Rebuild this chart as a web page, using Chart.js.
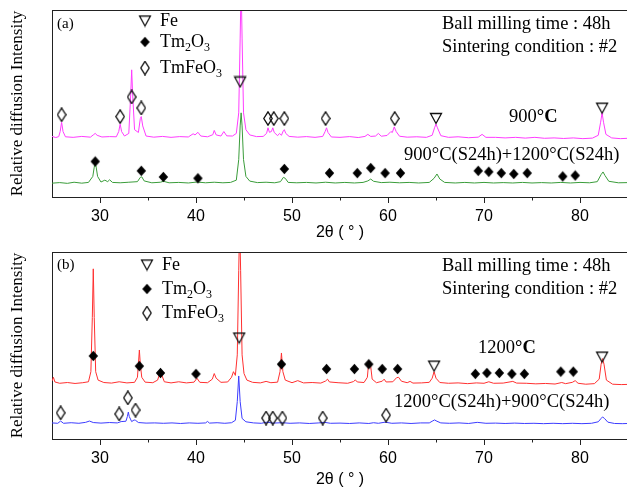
<!DOCTYPE html>
<html>
<head>
<meta charset="utf-8">
<script src="https://cdn.jsdelivr.net/npm/chart.js@4.4.1/dist/chart.umd.min.js"></script>
<style>
  html, body { margin: 0; padding: 0; background: #fff; }
  #wrap { position: relative; width: 627px; height: 488px; overflow: hidden; background: #fff; }
  canvas { position: absolute; left: 0; }
  #chartA { top: 0; }
  #chartB { top: 244px; }
</style>
</head>
<body>
<div id="wrap">
  <canvas id="chartA" width="640" height="244"></canvas>
  <canvas id="chartB" width="640" height="244"></canvas>
</div>
<script>
// x axis (2-theta) range and labelled ticks
const thetaMin = 25;
const thetaMax = 85;
const majorTicks = [30, 40, 50, 60, 70, 80];
const minorTicks = [35, 45, 55, 65, 75];

// panel (a) – 900°C pattern, [2θ, intensity]
const trace900 = [
  [25.0, 32.4], [25.4, 31.8], [25.7, 32.3], [25.85, 35], [26.0, 40], [26.15, 35], [26.4, 32.2],
  [27.2, 31.9], [28.1, 32.4], [29.0, 32.0], [29.3, 33.2], [29.5, 34], [29.7, 33], [30.2, 32.1],
  [31.0, 32.3], [31.7, 32.2], [31.95, 35], [32.1, 39], [32.25, 35], [32.55, 32.6], [33.0, 34],
  [33.2, 55], [33.3, 68], [33.4, 55], [33.6, 36], [34.0, 34.5], [34.2, 42], [34.3, 43],
  [34.45, 38], [34.8, 32.6], [35.6, 32.0], [36.5, 32.4], [37.4, 31.9], [38.3, 32.3], [39.2, 32.1],
  [39.7, 33.8], [39.9, 33.2], [40.2, 34.6], [40.5, 32.6], [41.2, 32.2], [41.75, 33.3], [41.9, 35.6],
  [42.1, 33.2], [42.6, 32.6], [42.9, 35], [43.2, 32.7], [43.8, 32.6], [44.2, 34], [44.45, 45],
  [44.6, 85], [44.7, 115], [44.8, 85], [44.95, 45], [45.2, 36], [45.6, 33.2], [46.3, 32.3],
  [47.0, 32.4], [47.35, 34], [47.5, 37], [47.65, 34.6], [47.85, 35], [48.0, 37], [48.15, 34.5],
  [48.5, 32.8], [48.7, 34], [48.9, 33], [49.1, 35.5], [49.2, 36], [49.35, 34], [49.7, 32.4],
  [50.6, 32.0], [51.5, 32.3], [52.4, 31.9], [53.2, 32.4], [53.45, 35], [53.6, 37], [53.75, 34.5],
  [54.1, 32.1], [55.0, 31.9], [56.0, 32.3], [56.9, 31.8], [57.6, 32.4], [57.9, 33.5], [58.2, 32.4],
  [58.7, 32.6], [59.0, 34], [59.3, 32.5], [59.9, 32.9], [60.3, 35], [60.45, 34.5], [60.65, 37.5],
  [60.85, 35], [61.2, 32.5], [62.0, 32.0], [63.0, 32.2], [64.0, 31.9], [64.6, 33], [64.85, 37],
  [65.0, 39], [65.15, 37], [65.5, 32.8], [66.3, 31.9], [67.3, 32.2], [68.4, 31.7], [69.4, 32.0],
  [69.8, 33.5], [70.2, 31.9], [71.2, 31.9], [72.2, 31.6], [73.3, 31.9], [74.3, 31.5], [75.3, 31.9],
  [76.3, 31.4], [77.3, 31.6], [78.3, 31.3], [79.3, 31.6], [80.3, 31.2], [81.3, 31.5], [81.9, 33],
  [82.15, 40], [82.3, 45], [82.45, 40], [82.7, 33.5], [83.3, 31.6], [84.2, 31.2], [85.0, 31.4]
];

// panel (a) – 900°C(S24h)+1200°C(S24h)
const trace900to1200 = [
  [25.0, 7.4], [25.8, 7.7], [26.6, 7.3], [27.3, 7.9], [28.1, 7.4], [28.8, 7.8], [29.25, 11],
  [29.4, 16], [29.5, 18], [29.6, 16], [29.75, 11], [30.1, 8], [30.5, 9], [30.8, 8.2], [31.0, 9.2],
  [31.3, 7.8], [32.1, 7.6], [33.0, 7.9], [33.9, 8.2], [34.2, 10.5], [34.35, 10.8], [34.6, 8.6],
  [35.4, 7.6], [36.3, 7.9], [36.6, 8.4], [37.2, 7.6], [38.2, 7.8], [39.2, 7.5], [40.1, 8],
  [41.0, 7.6], [41.9, 7.9], [42.8, 7.6], [43.6, 7.8], [44.2, 9], [44.45, 20], [44.6, 38],
  [44.7, 45], [44.8, 38], [44.95, 20], [45.2, 11], [45.6, 8.5], [46.4, 7.7], [47.3, 7.9],
  [48.2, 7.6], [48.8, 8.2], [49.1, 10.5], [49.3, 10], [49.6, 7.8], [50.5, 7.6], [51.5, 7.8],
  [52.5, 7.5], [53.5, 7.9], [54.5, 7.5], [55.5, 7.8], [56.5, 7.5], [57.4, 7.8], [57.9, 8.6],
  [58.2, 9.6], [58.5, 8.4], [59.3, 7.7], [60.2, 7.9], [61.2, 7.6], [62.2, 7.8], [63.2, 7.5],
  [64.3, 7.8], [64.8, 10], [65.1, 12.3], [65.4, 9.6], [65.9, 7.8], [67.0, 7.5], [68.0, 7.8],
  [69.0, 7.5], [70.0, 7.8], [71.0, 7.5], [72.0, 7.7], [73.0, 7.5], [74.0, 7.8], [75.0, 7.5],
  [76.0, 7.7], [77.0, 7.5], [78.0, 7.8], [79.0, 7.5], [80.0, 7.8], [81.0, 7.6], [81.8, 8.2],
  [82.2, 12], [82.4, 13.4], [82.6, 11.5], [83.0, 8.4], [84.0, 7.6], [85.0, 7.7]
];

// panel (b) – 1200°C
const trace1200 = [
  [25.0, 31], [25.15, 33], [25.3, 30.5], [25.8, 29.8], [26.6, 30.2], [27.4, 29.7], [28.2, 30.1],
  [28.8, 30.6], [29.05, 36], [29.2, 65], [29.3, 91], [29.4, 65], [29.55, 36], [29.8, 31.5],
  [30.4, 30.2], [31.2, 29.9], [32.0, 30.6], [32.8, 30.0], [33.6, 30.3], [33.9, 33], [34.0, 40],
  [34.1, 47.6], [34.2, 40], [34.35, 33], [34.7, 30.4], [35.5, 30.1], [36.0, 31.5], [36.25, 35.5],
  [36.45, 34], [36.7, 30.6], [37.4, 30.0], [38.2, 30.6], [39.0, 30.0], [39.8, 30.4], [40.1, 32.5],
  [40.4, 30.3], [41.2, 30.1], [41.7, 32], [41.9, 35], [42.1, 32.5], [42.6, 30.3], [43.3, 30.5],
  [43.7, 33], [43.9, 36], [44.1, 34], [44.3, 45], [44.45, 90], [44.55, 115], [44.65, 90],
  [44.8, 45], [45.0, 35], [45.3, 31.5], [45.9, 30.3], [46.7, 30.0], [47.3, 30.8], [47.8, 30.1],
  [48.5, 30.4], [48.75, 36], [48.9, 46], [49.05, 36], [49.3, 31.5], [50.0, 30.1], [50.6, 31.2],
  [51.2, 30.0], [52.1, 30.2], [53.0, 29.9], [53.5, 31], [53.7, 32], [53.9, 30.5], [54.8, 30.1],
  [55.8, 29.8], [56.4, 30.7], [56.6, 31.6], [56.8, 30.5], [57.5, 30.2], [57.85, 33], [58.0, 41.7],
  [58.15, 41], [58.35, 32], [58.8, 30.1], [59.4, 30.9], [59.6, 32], [59.8, 30.5], [60.5, 30.6],
  [60.9, 32.8], [61.1, 33], [61.4, 30.9], [62.0, 30.1], [62.3, 30.8], [62.6, 29.9], [63.5, 30.0],
  [64.3, 30.3], [64.6, 32.5], [64.8, 36], [65.0, 32.5], [65.4, 30.2], [66.3, 29.8], [67.3, 30.0],
  [68.3, 29.6], [69.2, 30.0], [70.0, 29.8], [70.5, 30.6], [71.0, 29.8], [72.0, 29.9], [73.0, 30.8],
  [73.4, 29.9], [74.4, 29.8], [75.4, 29.5], [76.4, 29.7], [77.4, 29.4], [78.1, 30.2], [78.5, 29.6],
  [79.2, 30.3], [79.5, 31.2], [79.8, 29.8], [80.6, 29.3], [81.5, 29.6], [82.0, 32], [82.2, 40],
  [82.35, 43], [82.5, 40], [82.75, 31.5], [83.4, 29.3], [84.3, 29.1], [85.0, 29.2]
];

// panel (b) – 1200°C(S24h)+900°C(S24h)
const trace1200to900 = [
  [25.0, 8.6], [25.6, 8.4], [25.9, 9.6], [26.2, 8.4], [27.0, 8.7], [27.8, 8.4], [28.5, 8.9],
  [28.9, 9.6], [29.3, 8.8], [30.1, 8.5], [31.0, 8.8], [31.8, 8.6], [32.2, 9.3], [32.7, 9.5],
  [32.85, 12], [32.95, 14.4], [33.05, 12], [33.3, 9.3], [33.55, 10.2], [33.7, 10], [34.0, 8.8],
  [34.8, 8.5], [35.7, 8.6], [36.6, 8.4], [37.5, 8.6], [38.4, 8.3], [39.3, 8.6], [40.2, 8.4],
  [41.0, 8.6], [41.2, 9.4], [41.4, 8.5], [42.2, 8.7], [43.0, 8.4], [43.7, 8.7], [44.1, 10],
  [44.3, 20], [44.45, 33.7], [44.6, 20], [44.8, 11], [45.2, 9.2], [46.0, 8.6], [46.8, 8.4],
  [47.4, 9], [48.0, 8.5], [49.0, 8.7], [49.8, 8.4], [50.8, 8.6], [51.8, 8.3], [52.8, 8.6],
  [53.4, 8.9], [54.0, 8.4], [55.0, 8.5], [56.0, 8.3], [57.0, 8.6], [58.0, 8.3], [58.5, 8.7],
  [59.0, 8.4], [59.7, 9], [60.4, 8.4], [61.4, 8.6], [62.4, 8.3], [63.4, 8.6], [64.3, 8.6],
  [64.6, 9.5], [64.85, 10.2], [65.1, 9.5], [65.5, 8.6], [66.4, 8.4], [67.4, 8.6], [68.4, 8.3],
  [69.3, 8.9], [70.2, 8.4], [71.2, 8.5], [72.2, 8.3], [73.2, 8.5], [74.2, 8.3], [75.2, 8.4],
  [76.2, 8.2], [77.2, 8.4], [78.2, 8.2], [79.2, 8.4], [80.2, 8.2], [81.2, 8.4], [81.9, 9.2],
  [82.2, 11], [82.35, 11.8], [82.55, 11], [82.9, 9], [83.6, 8.3], [84.4, 8.2], [85.0, 8.3]
];

// phase markers, [2θ, height]
const feMarksA = [[44.6, 61.5], [65.0, 42], [82.3, 47.5]];
const tm2o3MarksA = [
  [29.5, 19], [34.3, 14], [36.6, 10.7], [40.2, 10], [49.2, 15], [53.9, 12.8], [56.8, 12.8],
  [58.2, 15.5], [59.7, 12.8], [61.3, 12.8], [69.4, 14], [70.5, 13.5], [71.8, 12.8], [73.1, 12.3],
  [74.5, 12.8], [78.2, 11], [79.5, 11.5]
];
const tmfeo3MarksA = [
  [26.0, 44], [32.1, 43], [33.3, 53.5], [34.3, 47.6], [47.5, 42], [48.1, 42], [49.2, 42],
  [53.5, 42], [60.7, 42]
];
const feMarksB = [[44.5, 54], [64.8, 39], [82.3, 43.8]];
const tm2o3MarksB = [
  [29.3, 44.4], [34.1, 39], [36.3, 35.3], [40.0, 34.8], [48.9, 40], [53.6, 37.4], [56.5, 37.4],
  [58.0, 40], [59.4, 37.4], [61.0, 37.4], [69.1, 34.8], [70.3, 35.3], [71.6, 35.3], [72.9, 34.8],
  [74.2, 34.8], [78.0, 36], [79.3, 36]
];
const tmfeo3MarksB = [
  [25.9, 14], [32.0, 13.4], [32.9, 22], [33.7, 15.5], [47.3, 11.2], [48.0, 11.2], [49.0, 11.2],
  [53.2, 11.2], [59.8, 12.8]
];

const SERIF = '"Liberation Serif", "Times New Roman", serif';
const SANS = '"Liberation Sans", Arial, sans-serif';

// marker glyphs drawn once on small canvases
function makeTriangle() {
  const c = document.createElement('canvas');
  c.width = 14; c.height = 13;
  const g = c.getContext('2d');
  g.strokeStyle = '#111';
  g.lineWidth = 1.3;
  g.beginPath();
  g.moveTo(1.5, 1.5); g.lineTo(12.5, 1.5); g.lineTo(7, 11.5); g.closePath();
  g.stroke();
  return c;
}
function makeDiamond(filled) {
  const c = document.createElement('canvas');
  const w = filled ? 11 : 10, h = filled ? 12 : 15;
  c.width = w; c.height = h;
  const g = c.getContext('2d');
  g.beginPath();
  g.moveTo(w / 2, 0.8); g.lineTo(w - 0.8, h / 2); g.lineTo(w / 2, h - 0.8); g.lineTo(0.8, h / 2);
  g.closePath();
  if (filled) {
    g.fillStyle = '#000';
    g.fill();
  } else {
    g.strokeStyle = '#111';
    g.lineWidth = 1.3;
    g.stroke();
  }
  return c;
}
const triIcon = makeTriangle();
const fullDiamond = makeDiamond(true);
const openDiamond = makeDiamond(false);

const toXY = arr => arr.map(p => ({ x: p[0], y: p[1] }));

function traceSet(data, color) {
  return {
    data: toXY(data), borderColor: color, borderWidth: 1, pointRadius: 0,
    tension: 0, fill: false, order: 2
  };
}
function markSet(data, icon) {
  return {
    data: toXY(data), showLine: false, pointStyle: icon, pointRadius: 6,
    pointHoverRadius: 6, order: 1
  };
}

// draw text made of pieces (normal, bold, subscript)
function richText(ctx, x, y, parts, size) {
  ctx.textBaseline = 'middle';
  ctx.textAlign = 'left';
  ctx.fillStyle = '#000';
  parts.forEach(p => {
    const s = p.sub ? Math.round(size * 0.65) : size;
    ctx.font = (p.bold ? 'bold ' : '') + s + 'px ' + SERIF;
    ctx.fillText(p.t, x, p.sub ? y + size * 0.3 : y);
    x += ctx.measureText(p.t).width;
  });
}

function panelPlugin(p) {
  return {
    id: 'panelDecor',
    afterDraw(chart) {
      const { ctx, chartArea: a, scales: { x } } = chart;
      ctx.save();
      // top and right frame
      ctx.strokeStyle = '#222';
      ctx.lineWidth = 1;
      ctx.beginPath();
      ctx.moveTo(a.left, a.top + 0.5); ctx.lineTo(a.right, a.top + 0.5);
      ctx.lineTo(a.right, a.bottom);
      ctx.stroke();
      // short minor ticks
      ctx.beginPath();
      minorTicks.forEach(v => {
        const px = Math.round(x.getPixelForValue(v)) + 0.5;
        ctx.moveTo(px, a.bottom); ctx.lineTo(px, a.bottom + 3.5);
      });
      ctx.stroke();

      richText(ctx, 57, p.tagY, [{ t: p.tag }], 15);

      // legend
      const lx = p.legX, tx = p.legX + 15;
      ctx.drawImage(triIcon, lx - 7, p.legY[0] - 6.5);
      richText(ctx, tx, p.legY[0], [{ t: 'Fe' }], 18);
      ctx.drawImage(fullDiamond, lx - 5.5, p.legY[1] - 6);
      richText(ctx, tx, p.legY[1], [{ t: 'Tm' }, { t: '2', sub: true }, { t: 'O' }, { t: '3', sub: true }], 18);
      ctx.drawImage(openDiamond, lx - 5, p.legY[2] - 7.5);
      richText(ctx, tx, p.legY[2], [{ t: 'TmFeO' }, { t: '3', sub: true }], 18);

      richText(ctx, 442, p.infoY[0], [{ t: 'Ball milling time : 48h' }], 18.5);
      richText(ctx, 442, p.infoY[1], [{ t: 'Sintering condition : #2' }], 18.5);

      richText(ctx, p.upper[0], p.upper[1], [{ t: p.upper[2] }, { t: '°C', bold: true }], 18.5);
      richText(ctx, p.lower[0], p.lower[1], [{ t: p.lower[2] }], 18.5);
      ctx.restore();
    }
  };
}

function makePanel(id, cfg) {
  new Chart(document.getElementById(id), {
    type: 'line',
    data: {
      datasets: [
        traceSet(cfg.top, cfg.topColor),
        traceSet(cfg.bottom, cfg.bottomColor),
        markSet(cfg.fe, triIcon),
        markSet(cfg.tm2o3, fullDiamond),
        markSet(cfg.tmfeo3, openDiamond)
      ]
    },
    options: {
      responsive: false,
      animation: false,
      events: [],
      layout: { padding: { top: cfg.padTop, right: 12, left: 0, bottom: 0 } },
      plugins: { legend: { display: false }, tooltip: { enabled: false } },
      scales: {
        x: {
          type: 'linear', min: thetaMin, max: thetaMax,
          afterBuildTicks: s => { s.ticks = majorTicks.map(value => ({ value })); },
          ticks: {
            autoSkip: false, maxRotation: 0,
            color: '#000', padding: 4, font: { family: SANS, size: 16 },
            callback: v => String(v)
          },
          grid: { drawOnChartArea: false, drawTicks: true, tickLength: 6, color: '#222', lineWidth: 1 },
          border: { display: true, color: '#222', width: 1 },
          title: {
            display: true, text: '2θ ( ° )', color: '#000',
            font: { family: SANS, size: 16, lineHeight: 1 },
            padding: { top: 0, bottom: cfg.titlePad }
          },
          afterFit: s => { s.height = cfg.xHeight; }
        },
        y: {
          min: 0, max: 100,
          ticks: { display: false },
          grid: { display: false },
          border: { display: true, color: '#222', width: 1 },
          title: {
            display: true, text: 'Relative diffusion Intensity', color: '#000',
            font: { family: SERIF, size: 17, lineHeight: 1 },
            padding: { top: 9, bottom: 0 }
          },
          afterFit: s => { s.width = 52; }
        }
      }
    },
    plugins: [panelPlugin(cfg.decor)]
  });
}

makePanel('chartA', {
  top: trace900, topColor: '#ff3cff',
  bottom: trace900to1200, bottomColor: '#3a9c3a',
  fe: feMarksA, tm2o3: tm2o3MarksA, tmfeo3: tmfeo3MarksA,
  padTop: 10, xHeight: 47, titlePad: 3,
  decor: {
    tag: '(a)', tagY: 24, legX: 145, legY: [21, 42, 68],
    infoY: [24, 47],
    upper: [509, 117, '900'],
    lower: [404, 155, '900°C(S24h)+1200°C(S24h)']
  }
});

makePanel('chartB', {
  top: trace1200, topColor: '#ff3030',
  bottom: trace1200to900, bottomColor: '#3c3cff',
  fe: feMarksB, tm2o3: tm2o3MarksB, tmfeo3: tmfeo3MarksB,
  padTop: 8, xHeight: 49, titlePad: 0,
  decor: {
    tag: '(b)', tagY: 21, legX: 147, legY: [21, 45, 69],
    infoY: [22, 45],
    upper: [478, 104, '1200'],
    lower: [394, 158, '1200°C(S24h)+900°C(S24h)']
  }
});
</script>
</body>
</html>
